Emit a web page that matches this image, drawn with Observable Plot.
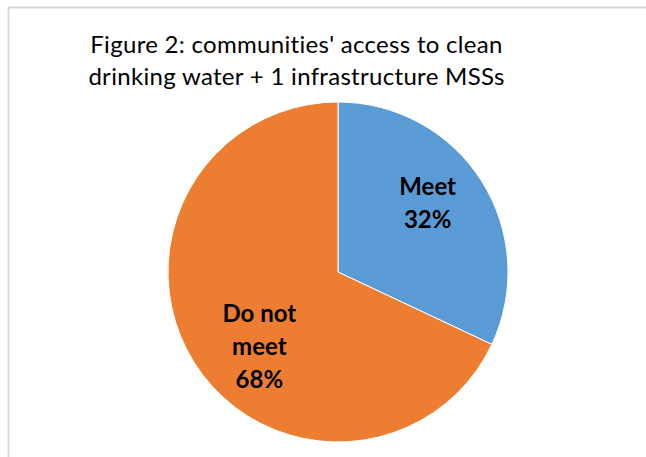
<!DOCTYPE html>
<html>
<head>
<meta charset="utf-8">
<script src="https://cdn.jsdelivr.net/npm/d3@7"></script>
<script src="https://cdn.jsdelivr.net/npm/@observablehq/plot@0.6"></script>
<style>
  html, body { margin: 0; padding: 0; background: #fff; }
  #chart svg { display: block; font-variant-ligatures: none; }
</style>
</head>
<body>
<div id="chart"></div>
<script>
// Share of communities meeting the clean drinking water + 1 infrastructure MSSs
const categories = ["Meet", "Do not meet"];
const shares = [32, 68];
const labelLines = ["Meet", "Do not\nmeet"];
const colors = ["#5B9BD5", "#ED7D31"];
const titleLines = "Figure 2: communities' access to clean\ndrinking water + 1 infrastructure MSSs";

const rows = categories.map((category, i) => ({category, value: shares[i], label: labelLines[i]}));
const slices = d3.pie().sort(null).value(d => d.value)(rows);

// Label anchors: along each slice's bisector, nudged counter-clockwise
const labelRadius = 0.65;
const labelTurn = -8 * Math.PI / 180;
const labels = slices.map(s => {
  const a = (s.startAngle + s.endAngle) / 2 + labelTurn;
  return {
    x: labelRadius * Math.sin(a),
    y: labelRadius * Math.cos(a),
    text: `${s.data.label}\n${s.data.value}%`
  };
});

const font = "Lato, 'Open Sans', sans-serif";

const chart = Plot.plot({
  width: 646,
  height: 457,
  marginLeft: 8,
  marginTop: 7,
  marginRight: 0,
  marginBottom: 0,
  style: {fontFamily: font, background: "#fff", overflow: "hidden"},
  x: {domain: [-1, 1], range: [168, 508], axis: null},
  y: {domain: [-1, 1], range: [442, 102], axis: null},
  color: {domain: categories, range: colors},
  marks: [
    Plot.frame({stroke: "#D9D9D9", strokeWidth: 2, insetRight: -6, insetBottom: -6}),
    // pie slices, drawn with d3.arc from the pie layout and Plot's scales
    Plot.dot(slices, {
      x: () => 0,
      y: () => 0,
      fill: d => d.data.category,
      render(index, scales, values) {
        const cx = scales.x(0), cy = scales.y(0);
        const r = scales.x(1) - scales.x(0);
        const arc = d3.arc().innerRadius(0).outerRadius(r);
        const g = d3.create("svg:g").attr("transform", `translate(${cx},${cy})`);
        g.selectAll("path")
          .data(index)
          .join("path")
          .attr("d", i => arc(slices[i]))
          .attr("fill", i => values.fill[i])
          .attr("stroke", "#fff")
          .attr("stroke-width", 1)
          .attr("stroke-linejoin", "round");
        return g.node();
      }
    }),
    Plot.text(labels, {
      x: "x",
      y: "y",
      text: "text",
      dx: 5,
      fontSize: 24,
      fontWeight: "bold",
      lineHeight: 1.375,
      fill: "#000",
      textAnchor: "middle",
      lineAnchor: "middle"
    }),
    Plot.text([titleLines], {
      frameAnchor: "top-left",
      text: d => d,
      dx: 288,
      dy: 23,
      fontSize: 24,
      lineHeight: 1.333,
      lineAnchor: "top",
      textAnchor: "middle",
      fill: "#000",
      render(index, scales, values, dimensions, context, next) {
        const g = next(index, scales, values, dimensions, context);
        g.setAttribute("letter-spacing", "0.3");
        return g;
      }
    })
  ]
});

document.getElementById("chart").append(chart);
</script>
</body>
</html>
